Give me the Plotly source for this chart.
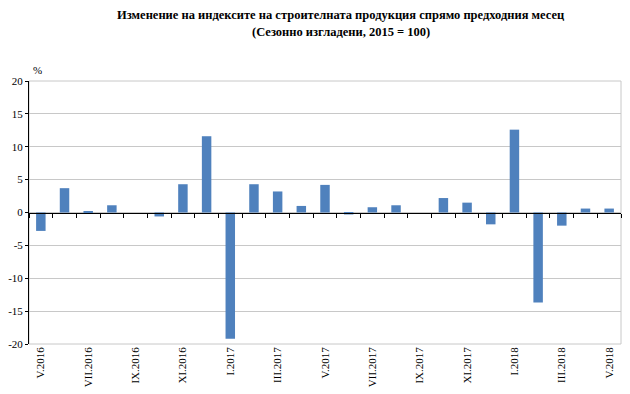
import plotly.graph_objects as go

months = ["V.2016", "VI.2016", "VII.2016", "VIII.2016", "IX.2016", "X.2016", "XI.2016", "XII.2016",
          "I.2017", "II.2017", "III.2017", "IV.2017", "V.2017", "VI.2017", "VII.2017", "VIII.2017",
          "IX.2017", "X.2017", "XI.2017", "XII.2017", "I.2018", "II.2018", "III.2018", "IV.2018", "V.2018"]
values = [-2.8, 3.7, 0.2, 1.1, 0.0, -0.6, 4.3, 11.6, -19.2, 4.3, 3.2, 1.0, 4.2, -0.3, 0.8, 1.1,
          0.0, 2.2, 1.5, -1.8, 12.6, -13.7, -2.0, 0.6, 0.6]
y_ticks = [20, 15, 10, 5, 0, -5, -10, -15, -20]
title_lines = ["Изменение на индексите на строителната продукция спрямо предходния месец",
               "(Сезонно изгладени, 2015 = 100)"]

xs = list(range(len(months)))
label_idx = xs[::2]

FONT = "Liberation Serif, Times New Roman, serif"

fig = go.Figure()
fig.add_trace(go.Bar(x=xs, y=values, marker=dict(color="#4F81BD", line=dict(width=0)),
                     width=0.4, showlegend=False))
# invisible trace to activate the overlay axis
fig.add_trace(go.Scatter(x=[xs[0]], y=[0], xaxis="x2", mode="markers", marker=dict(opacity=0),
                         showlegend=False, hoverinfo="skip"))

annotations = [dict(text="%", xref="paper", yref="paper", x=0.004, y=1.0, yshift=3,
                    xanchor="left", yanchor="bottom", showarrow=False,
                    font=dict(family=FONT, size=11, color="black"))]
for i, line in enumerate(title_lines):
    annotations.append(dict(text="<b>" + line + "</b>", xref="paper", yref="paper",
                            x=0.527, y=1.0, yshift=66 - 17 * i, xanchor="center",
                            yanchor="middle", showarrow=False,
                            font=dict(family=FONT, size=12.5, color="black")))

fig.update_layout(
    width=622, height=386,
    margin=dict(l=21, r=9, t=73, b=50, autoexpand=False),
    paper_bgcolor="white", plot_bgcolor="white",
    font=dict(family=FONT, size=11, color="black"),
    xaxis=dict(range=[-0.5, len(xs) - 0.5], tickmode="array", automargin=False,
               tickvals=label_idx, ticktext=[months[i] for i in label_idx],
               tickangle=-90, ticks="", showgrid=False, zeroline=False, showline=False,
               tickfont=dict(family=FONT, size=11)),
    xaxis2=dict(overlaying="x", anchor="free", position=0.5, side="bottom",
                range=[-0.5, len(xs) - 0.5], tickmode="array",
                tickvals=[i - 0.5 for i in range(len(xs) + 1)], showticklabels=False,
                ticks="outside", ticklen=4, tickcolor="black", tickwidth=1,
                showline=True, linecolor="black", linewidth=1, showgrid=False, zeroline=False),
    yaxis=dict(range=[-20, 20], tickmode="array", tickvals=y_ticks, automargin=False,
               ticktext=[str(v) for v in y_ticks],
               showgrid=True, gridcolor="#C8C8C8", gridwidth=1, zeroline=False,
               showline=True, linecolor="black", linewidth=1,
               ticks="outside", ticklen=3, tickcolor="black",
               tickfont=dict(family=FONT, size=11)),
    shapes=[dict(type="rect", xref="paper", yref="paper", x0=0, x1=1, y0=0, y1=1,
                 line=dict(color="#C8C8C8", width=1), layer="below")],
    annotations=annotations,
)

fig.write_html("out.html")
